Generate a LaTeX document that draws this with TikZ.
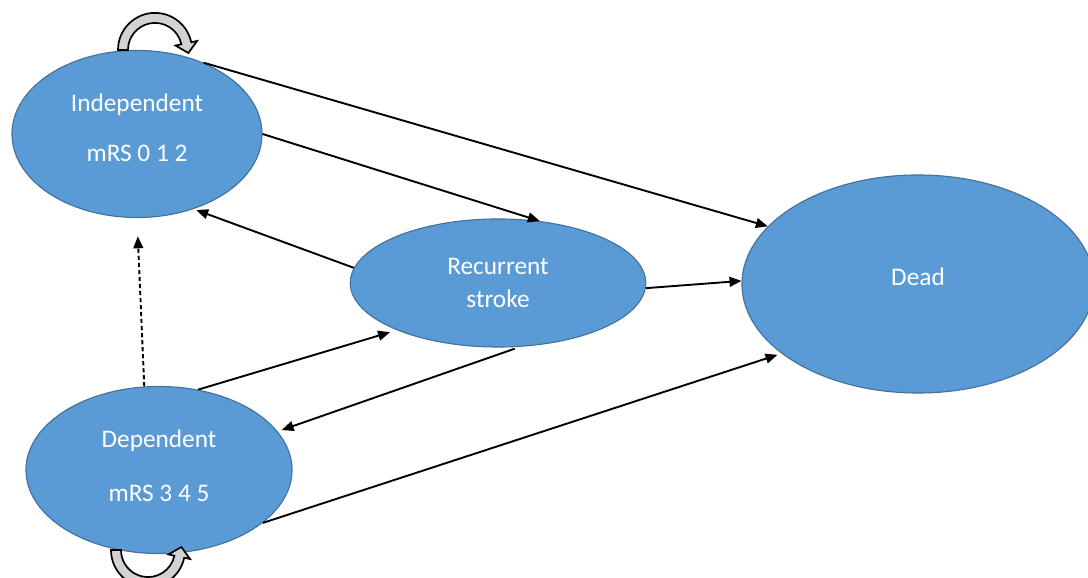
\documentclass[tikz,border=0pt]{standalone}
\usepackage{fontspec}
\setmainfont{Carlito}
\usepackage{tikz}
\usetikzlibrary{shapes.geometric, arrows.meta, positioning, calc}
\definecolor{stateblue}{RGB}{91,155,213}
\definecolor{stateline}{RGB}{65,113,156}
\definecolor{loopgray}{RGB}{210,210,210}
\tikzset{
  stt/.style={
    ellipse, inner sep=0pt, align=center,
    fill=stateblue, draw=stateline, line width=0.8pt,
    text=white, font=\fontsize{18}{23}\selectfont
  },
  arr/.style={-{Triangle[length=8.5pt,width=7pt]}, line width=1.35pt},
  darr/.style={arr, dash pattern=on 3pt off 2pt},
  loopband/.style={fill=loopgray, draw=black, line width=1.2pt, line join=miter}
}

\begin{document}
\begin{tikzpicture}[x=0.025cm, y=0.025cm]
  \useasboundingbox (0,0) rectangle (1088,578);
  \clip (0,0) rectangle (1088,578);

  \node[stt, minimum width=6.25cm, minimum height=4.175cm, text depth=9pt] (indep)  at (137,444) {Independent\\[13pt]mRS 0 1 2};
  \node[stt, minimum width=7.385cm, minimum height=3.2cm]  (recur)  at (498,295) {Recurrent\\stroke};
  \node[stt, minimum width=8.8cm, minimum height=5.45cm, text depth=11pt]   (dead)   at (918,294) {Dead};
  \node[stt, minimum width=6.65cm, minimum height=4.175cm, text depth=6pt] (depend) at (159,108) {Dependent\\[15pt]mRS 3 4 5};

  \draw[arr] (indep.47)   -- (dead.159);
  \draw[arr] (indep.0)    -- (recur.56);
  \draw[arr, shorten >=2pt] (recur.174) -- (indep.-53);
  \draw[arr] (recur.-2)   -- (dead.179);
  \draw[arr, shorten >=5pt] (depend.64) -- (recur.-155);
  \draw[arr, shorten <=4pt, shorten >=3pt] (recur.-71) -- (depend.18);
  \draw[arr, shorten >=3pt] (depend.-27) -- (dead.-153);
  \draw[darr, shorten >=13pt] (depend.100) -- (indep.south);

  % self loops
  \coordinate (toploop) at ($(indep.north)+(18,0)$);
  \coordinate (botloop) at ($(depend.south)+(-11,4)$);
  \begin{scope}[shift={(toploop)}]
    \draw[loopband] (180:37) arc[start angle=180, end angle=12, radius=0.925cm]
      -- (12:43) -- (-5.3:33.5) -- (12:21) -- (12:27)
      arc[start angle=12, end angle=180, radius=0.675cm] -- cycle;
  \end{scope}
  \begin{scope}[shift={(botloop)}]
    \draw[loopband] (180:37) arc[start angle=180, end angle=348, radius=0.925cm]
      -- (348:43) -- (5.3:33.5) -- (348:21) -- (348:27)
      arc[start angle=348, end angle=180, radius=0.675cm] -- cycle;
  \end{scope}
\end{tikzpicture}
\end{document}
